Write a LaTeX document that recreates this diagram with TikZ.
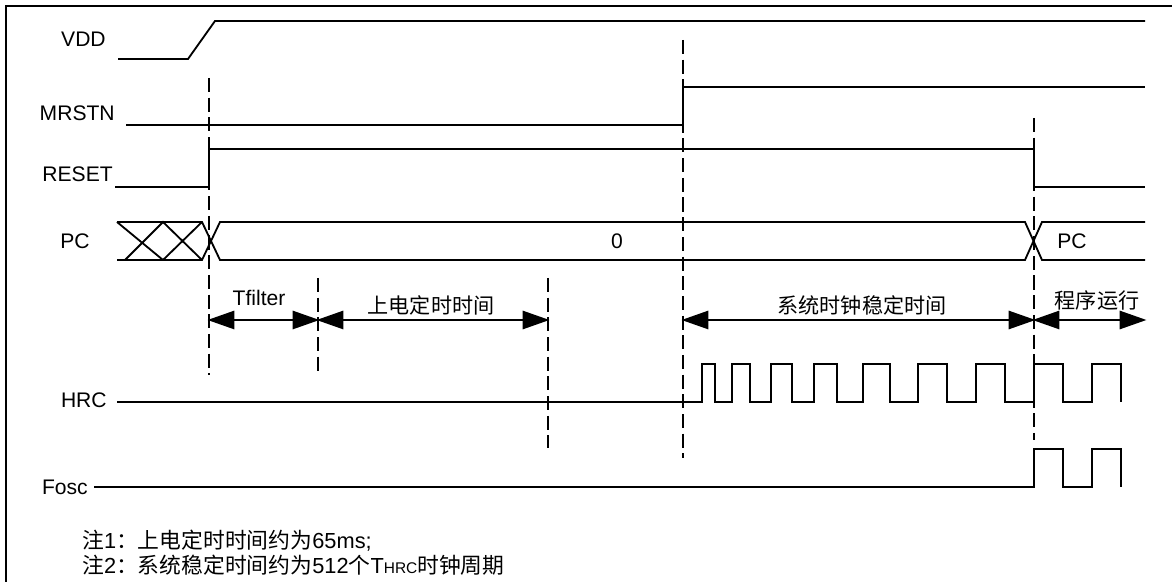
\documentclass[tikz,border=0pt]{standalone}
\usepackage{fontspec}
\setmainfont{Liberation Sans}
\newfontfamily\cjk{Noto Sans CJK SC}
\usetikzlibrary{arrows.meta}

\begin{document}
\begin{tikzpicture}[
  x=0.025cm, y=-0.025cm,
  font=\fontsize{15}{18}\selectfont,
  sig/.style={line width=1.3pt, line join=miter},
  guide/.style={line width=1pt, dash pattern=on 10pt off 4pt},
  span/.style={
    {Triangle[length=19pt,width=13pt]}-{Triangle[length=19pt,width=13pt]},
    line width=1.3pt, shorten <=-1pt, shorten >=-1pt
  },
  signame/.style={anchor=east, inner sep=0pt},
  note/.style={anchor=west, inner sep=0pt, font=\fontsize{15.5}{18}\selectfont},
]
\useasboundingbox (0,0) rectangle (1172,582);

% Frame
\draw[line width=1.5pt] (1172,6) -- (6,6) -- (6,582);

% Signal names
\node[signame] (vdd)   at (106,39)  {VDD};
\node[signame] (mrstn) at (115,113) {MRSTN};
\node[signame] (reset) at (113,174) {RESET};
\node[signame] (pc)    at (90,241)  {PC};
\node[signame] (hrc)   at (107,400) {HRC};
\node[signame] (fosc)  at (88,487)  {Fosc};

% Waveforms
\draw[sig] (118,59) -- (188,59) -- (215,21) -- (1145,21);
\draw[sig] (126,125) -- (683,125) -- (683,87) -- (1145,87);
\draw[sig] (115,187) -- (209,187) -- (209,149) -- (1034,149) -- (1034,187) -- (1145,187);

% PC bus
\draw[sig] (117,222) -- (202,222) -- (220,260) -- (1025,260) -- (1042,222) -- (1145,222);
\draw[sig] (117,260) -- (202,260) -- (220,222) -- (1025,222) -- (1042,260) -- (1145,260);
\draw[sig] (117,222) -- (163,260) (125,260) -- (163,222) -- (202,260)
  (163,260) -- (202,222);
\node (pczero) at (617,241) {0};
\node (pcrun)  at (1072,241) {PC};

% HRC and Fosc clocks
\draw[sig] (117,402)
  \foreach \r/\f in {702/715,732/750,771/792,814/837,863/890,918/947,976/1005,1034/1063,1092/1121}
  { -- (\r,402) -- (\r,364) -- (\f,364) -- (\f,402) };
\draw[sig] (94,487)
  \foreach \r/\f in {1034/1063,1092/1121}
  { -- (\r,487) -- (\r,449) -- (\f,449) -- (\f,487) };

% Guide lines
\draw[guide] (209,78)  -- (209,375);
\draw[guide] (318,278) -- (318,375);
\draw[guide] (548,278) -- (548,448);
\draw[guide] (683,40)  -- (683,458);
\draw[guide] (1034,118) -- (1034,440);

% Time spans
\coordinate (por)   at (209,320);
\coordinate (filt)  at (318,320);
\coordinate (tmr)   at (548,320);
\coordinate (rel)   at (683,320);
\coordinate (stab)  at (1034,320);
\coordinate (run)   at (1145,320);
\draw[span] (por) -- (filt);
\draw[span] (filt) -- (tmr);
\draw[span] (rel) -- (stab);
\draw[span] (stab) -- (run);
\node (tfilter) at (259,298) {Tfilter};
\node (tpwrt)   at (431,305) {\cjk 上电定时时间};
\node (tstab)   at (862,305) {\cjk 系统时钟稳定时间};
\node (trun)    at (1097,300) {\cjk 程序运行};

% Notes
\node[note] (note1) at (82,541) {{\cjk 注}1{\cjk ：上电定时时间约为}65ms;};
\node[note] (note2) at (82,565)
  {{\cjk 注}2{\cjk ：系统稳定时间约为}512{\cjk 个}T{\fontsize{11}{13}\selectfont HRC}{\cjk 时钟周期}};

\end{tikzpicture}
\end{document}
